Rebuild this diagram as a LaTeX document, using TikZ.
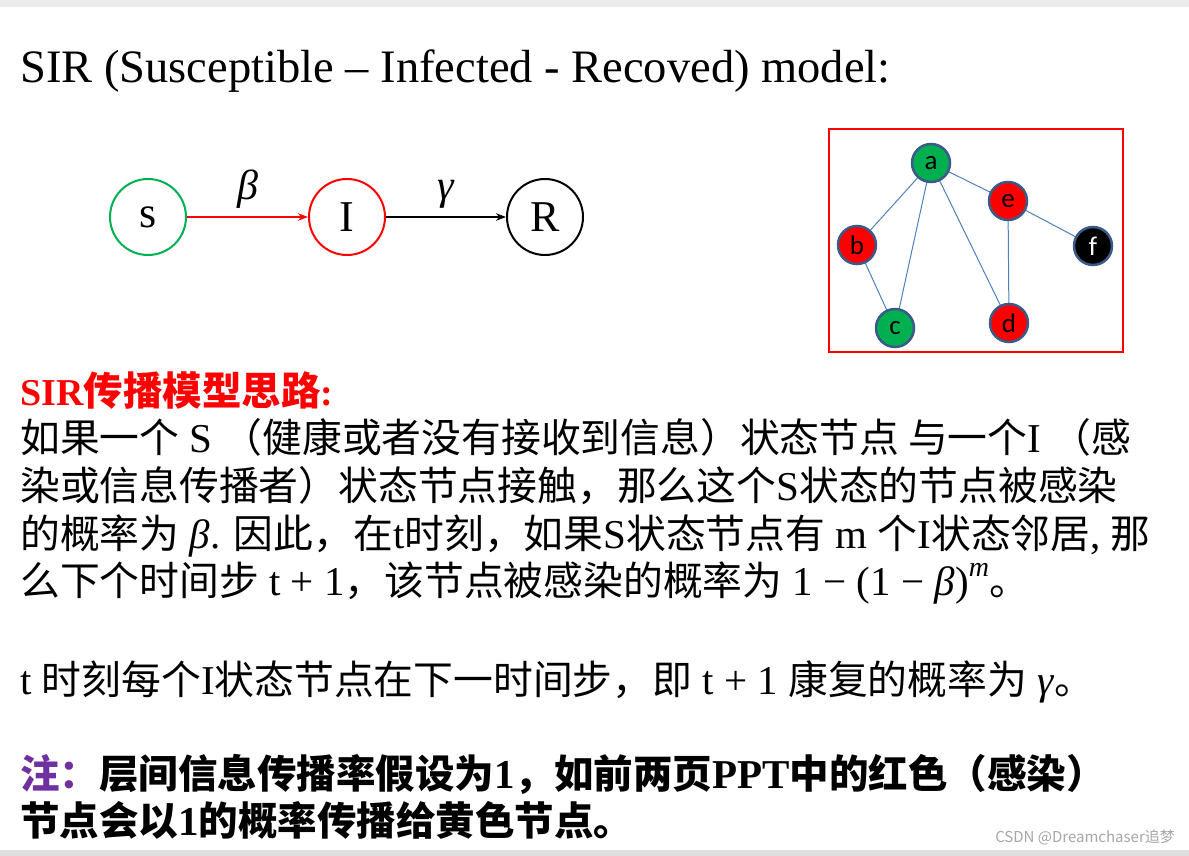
\documentclass[tikz,border=0pt]{standalone}
\usepackage{fontspec}
\setmainfont{Liberation Serif}
\newfontfamily\cjk{Noto Sans CJK SC}
\newfontfamily\lab{Carlito}
\usetikzlibrary{arrows.meta}
\definecolor{gedge}{HTML}{4F81BD}
\definecolor{gborder}{HTML}{3B5A8A}
\definecolor{ggreen}{HTML}{00B050}
\definecolor{purp}{HTML}{7030A0}
\tikzset{
 sir/.style={circle,draw,line width=2pt,minimum size=76pt,inner sep=0pt,font=\fontsize{44}{44}\selectfont},
 gn/.style={circle,draw=gborder,line width=2.5pt,minimum size=38pt,inner sep=0pt,font=\lab\fontsize{27}{27}\selectfont},
 ge/.style={gedge,line width=1pt},
 line/.style={anchor=base west,inner sep=0pt,font=\fontsize{41}{41}\selectfont},
}
\newcommand{\C}[1]{{\cjk\fontsize{39.8}{39.8}\selectfont #1}}
\newcommand{\CB}[1]{{\cjk\bfseries\fontsize{39.5}{39.5}\selectfont #1}}
\newcommand{\G}[1]{\textit{#1}}
\begin{document}
\begin{tikzpicture}[x=1pt,y=-1pt]
\useasboundingbox (0,0) rectangle (1189,856);
\fill[gray!15] (0,0) rectangle (1189,7);
\fill[gray!25] (0,850) rectangle (1189,856);
\node[anchor=base west,inner sep=0pt,font=\fontsize{46.5}{46.5}\selectfont] (title) at (20,83) {SIR (Susceptible -- Infected - Recoved) model:};
\node[sir,draw=ggreen] (s) at (148,217) {s};
\node[sir,draw=red] (i) at (347,217) {I};
\node[sir,draw=black] (r) at (545,217) {R};
\draw[red,line width=2pt,-{Stealth[length=10pt]}] (s) -- node[above=4pt,black,font=\fontsize{42}{42}\selectfont]{\G{β}} (i);
\draw[black,line width=2pt,-{Stealth[length=10pt]}] (i) -- node[above=4pt,font=\fontsize{42}{42}\selectfont]{\G{γ}} (r);
\draw[red,line width=2.5pt] (829,129) rectangle (1123,352);
\draw[ge] (931,163) -- (1008,201); \draw[ge] (931,163) -- (857,245); \draw[ge] (931,163) -- (895,328); \draw[ge] (931,163) -- (1009,323);
\draw[ge] (857,245) -- (895,328); \draw[ge] (1008,201) -- (1009,323); \draw[ge] (1008,201) -- (1093,246);
\node[gn,fill=ggreen] (a) at (931,163) {a};
\node[gn,fill=red] (e) at (1008,201) {e};
\node[gn,fill=red] (b) at (857,245) {b};
\node[gn,fill=black,text=white] (f) at (1093,246) {f};
\node[gn,fill=ggreen] (c) at (895,328) {c};
\node[gn,fill=red] (d) at (1009,323) {d};
\node[line,text=red,font=\bfseries\fontsize{38}{38}\selectfont] (h) at (20,405) {SIR\CB{传播模型思路}:};
\node[line] (l1) at (20,452) {\C{如果一个} S \C{（健康或者没有接收到信息）状态节点 与一个}I \C{（感}};
\node[line] (l2) at (20,500) {\C{染或信息传播者）状态节点接触，那么这个}S\C{状态的节点被感染}};
\node[line] (l3) at (20,548) {\C{的概率为} \G{β}. \C{因此，在}t\C{时刻，如果}S\C{状态节点有} m \C{个}I\C{状态邻居}, \C{那}};
\node[line] (l4) at (20,595) {\C{么下个时间步} t + 1\C{，该节点被感染的概率为} 1 − (1 − \G{β})\raisebox{0.45em}{\fontsize{28}{28}\selectfont\G{m}}\C{。}};
\node[line] (l5) at (20,694) {t \C{时刻每个}I\C{状态节点在下一时间步，即} t + 1 \C{康复的概率为} \G{γ}\C{。}};
\node[line,font=\bfseries\fontsize{41}{41}\selectfont] (l6) at (20,788) {{\color{purp}\CB{注：}}\CB{层间信息传播率假设为}1\CB{，如前两页}PPT\CB{中的红色（感染）}};
\node[line,font=\bfseries\fontsize{41}{41}\selectfont] (l7) at (20,835) {\CB{节点会以}1\CB{的概率传播给黄色节点。}};
\node[anchor=base east,inner sep=0pt,text=gray!70,font=\cjk\fontsize{15}{15}\selectfont] (wm) at (1175,842) {CSDN @Dreamchaser追梦};
\end{tikzpicture}
\end{document}
